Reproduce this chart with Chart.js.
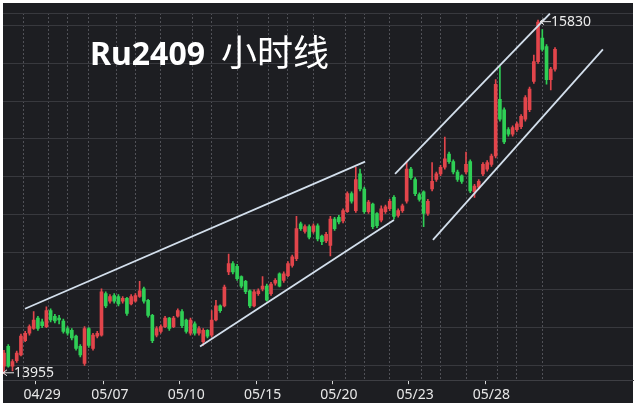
<!DOCTYPE html>
<html><head><meta charset="utf-8">
<script src="https://cdn.jsdelivr.net/npm/chart.js@4.4.1/dist/chart.umd.min.js"></script>
<style>
html,body{margin:0;padding:0;background:#fff;}
#wrap{position:relative;width:639px;height:408px;overflow:hidden;}
canvas{position:absolute;left:0;top:0;}
.t1{position:absolute;left:90px;top:37px;font-family:'Noto Sans';font-weight:bold;font-size:32px;line-height:32px;color:#fff;white-space:nowrap;}
.t2{position:absolute;left:221px;top:32px;font-family:'Noto Sans CJK SC';font-weight:normal;font-size:36px;line-height:36px;color:#fff;white-space:nowrap;}
</style></head>
<body><div id="wrap"><canvas id="c" width="639" height="408"></canvas>
<div class="t1">Ru2409</div><div class="t2">小时线</div></div>
<script>
const opens = [13995,14100,13995,14025,14055,14130,14170,14195,14250,14230,
14205,14290,14260,14250,14235,14195,14185,14155,14100,14010,
14195,14090,14155,14160,14380,14340,14370,14365,14340,14355,
14325,14340,14365,14405,14345,14265,14160,14180,14205,14250,
14205,14260,14285,14240,14170,14220,14170,14125,14185,14160,
14240,14315,14315,14495,14540,14525,14470,14445,14395,14315,
14380,14405,14420,14380,14435,14485,14450,14475,14530,14565,
14750,14710,14735,14710,14740,14685,14660,14635,14775,14785,
14765,14815,14910,14820,15015,14935,14815,14855,14805,14770,
14815,14830,14890,14795,14820,14870,15040,14985,14905,14920,
14805,14935,14985,15015,15050,15120,15080,15025,15005,15025,
15080,14920,14945,15015,15040,15065,15110,15410,15355,15250,
15225,15250,15265,15305,15355,15505,15610,15735,15690,15515,
15570];
const closes = [14065,13995,14020,14065,14155,14170,14205,14240,14195,14210,
14290,14240,14235,14240,14180,14170,14145,14090,14055,14195,
14105,14160,14170,14390,14315,14365,14340,14325,14355,14275,
14365,14370,14395,14340,14265,14130,14195,14205,14250,14195,
14250,14290,14210,14180,14240,14170,14195,14185,14155,14240,
14315,14290,14415,14540,14495,14460,14420,14390,14315,14390,
14395,14420,14345,14430,14450,14420,14485,14540,14575,14725,
14725,14735,14680,14740,14670,14655,14695,14775,14725,14760,
14820,14910,14870,14985,14935,14815,14865,14735,14740,14830,
14840,14870,14790,14820,14845,15040,14995,14910,14880,14805,
14870,14975,15015,15050,15095,15080,15025,14985,14975,15065,
14925,14950,14975,15065,15075,15110,15490,15305,15185,15225,
15260,15280,15320,15420,15465,15610,15820,15675,15515,15570,
15675];
const highs = [14080,14110,14030,14075,14165,14180,14215,14285,14260,14245,
14310,14300,14270,14265,14245,14205,14195,14160,14110,14205,
14200,14170,14180,14405,14390,14375,14380,14375,14365,14360,
14375,14380,14445,14415,14350,14270,14205,14215,14260,14255,
14260,14300,14295,14245,14250,14230,14205,14195,14190,14290,
14345,14320,14425,14590,14550,14535,14475,14450,14400,14400,
14405,14470,14430,14440,14460,14490,14495,14550,14585,14790,
14760,14745,14745,14750,14750,14690,14705,14790,14785,14795,
14830,14920,14920,15050,15040,14945,14875,14860,14810,14845,
14850,14880,14900,14830,14855,15080,15050,14995,14915,14925,
14880,15075,15025,15060,15210,15130,15090,15035,15010,15130,
15090,14960,14985,15075,15085,15120,15515,15585,15365,15260,
15270,15290,15330,15430,15475,15645,15830,15780,15700,15580,
15685];
const lows = [13955,13990,13970,14015,14050,14125,14160,14190,14185,14200,
14200,14230,14225,14220,14170,14160,14135,14080,14045,14000,
14095,14080,14145,14155,14305,14330,14330,14315,14330,14265,
14320,14335,14360,14330,14255,14120,14150,14170,14200,14185,
14200,14255,14200,14170,14160,14160,14160,14105,14145,14150,
14235,14280,14310,14480,14485,14450,14410,14380,14305,14310,
14370,14395,14340,14370,14425,14415,14440,14470,14520,14555,
14715,14700,14670,14700,14660,14640,14650,14580,14715,14750,
14755,14810,14860,14810,14925,14805,14805,14725,14730,14760,
14805,14820,14775,14785,14810,14860,14985,14900,14870,14735,
14795,14925,14975,15005,15040,15070,15015,14975,14965,15015,
14915,14890,14935,15005,15030,15055,15100,15295,15175,15215,
15215,15240,15255,15295,15345,15495,15600,15665,15490,15460,
15560];
const tickIndex = [9,25,43,61,79,97,115];
const tickLabels = ['04/29','05/07','05/10','05/15','05/20','05/23','05/28'];
const dayBreaks = [6,12,18,22,28,34,40,46,52,58,64,70,76,82,88,94,100,106,112,118,124,130];
const yGrid = [13921,14000,14200,14400,14600,14800,15000,15200,15400,15600,15800,15868];
const trend1 = [[4.95,14300],[85.2,15080]];
const trend2 = [[46.25,14100],[92.0,14770]];
const trend3 = [[92.26,15015],[128.8,15865]];
const trend4 = [[101.2,14665],[141.3,15675]];

const UP = '#e2454b', DOWN = '#2fcf55';
const cols = opens.map((o,i)=> closes[i] >= o ? UP : DOWN);
const allTicks = dayBreaks.concat(tickIndex).sort((a,b)=>a-b);

const bgPlugin = {
  id:'bg',
  beforeDraw(chart){
    const c = chart.ctx; c.save();
    c.fillStyle = '#ffffff'; c.fillRect(0,0,chart.width,chart.height);
    c.fillStyle = '#1d1e22'; c.fillRect(3,3,630,400);
    c.restore();
  }
};
const markPlugin = {
  id:'marks',
  afterDatasetsDraw(chart){
    const xs = chart.scales.x, ys = chart.scales.y, c = chart.ctx;
    const hiV = Math.max(...highs), loV = Math.min(...lows);
    const hi = highs.indexOf(hiV), lo = lows.indexOf(loV);
    function mark(px, py, txt){
      c.save();
      c.strokeStyle = '#e6e6e6'; c.lineWidth = 1;
      c.beginPath();
      c.moveTo(px, py); c.lineTo(px+11, py);
      c.moveTo(px+4, py-3); c.lineTo(px, py); c.lineTo(px+4, py+3);
      c.stroke();
      c.fillStyle = '#ececec';
      c.font = "14px 'Noto Sans'";
      c.textBaseline = 'middle'; c.textAlign = 'left';
      c.fillText(txt, px+11, py);
      c.restore();
    }
    mark(xs.getPixelForValue(hi)+2, ys.getPixelForValue(hiV)+1.5, String(hiV));
    mark(xs.getPixelForValue(lo)-1, ys.getPixelForValue(loV)-1, String(loV));
  }
};
const lineDs = (pts) => ({
  type:'line', data: pts.map(p=>({x:p[0], y:p[1]})),
  borderColor:'#d3dfec', borderWidth:1.8, pointRadius:0, fill:false, order:-1, tension:0
});

new Chart(document.getElementById('c'), {
  type:'bar',
  data:{
    datasets:[
      {type:'bar', data: opens.map((o,i)=>({x:i, y:[opens[i], closes[i]]})), backgroundColor: cols,
       barThickness:3, grouped:false, borderWidth:0, order:0},
      {type:'bar', data: opens.map((o,i)=>({x:i, y:[lows[i], highs[i]]})), backgroundColor: cols,
       barThickness:1, grouped:false, borderWidth:0, order:1},
      lineDs(trend1), lineDs(trend2), lineDs(trend3), lineDs(trend4)
    ]
  },
  options:{
    responsive:false, animation:false, devicePixelRatio:1,
    layout:{padding:{left:3, right:6, top:13, bottom:3}},
    plugins:{legend:{display:false}, tooltip:{enabled:false}, title:{display:false}},
    scales:{
      x:{
        type:'linear', min:-0.236, max:148.4, offset:false,
        afterBuildTicks: s => { s.ticks = allTicks.map(v=>({value:v})); },
        ticks:{autoSkip:false, maxRotation:0, minRotation:0, padding:2, color:'#e8e8e8',
          font:{family:'Noto Sans', size:14},
          callback: v => { const k = tickIndex.indexOf(v); return k >= 0 ? tickLabels[k] : ''; }},
        grid:{
          color: ctx => (ctx.tick && dayBreaks.includes(ctx.tick.value)) ? '#505157' : 'rgba(0,0,0,0)',
          tickColor: ctx => (ctx.tick && tickIndex.includes(ctx.tick.value)) ? '#d8d8d8' : 'rgba(0,0,0,0)',
          tickLength:4, lineWidth:1, drawTicks:true
        },
        border:{display:true, color:'#3e3f44', dash:[2,2]}
      },
      y:{
        type:'linear', min:13921, max:15868,
        afterBuildTicks: s => { s.ticks = yGrid.map(v=>({value:v})); },
        ticks:{display:false},
        grid:{color:'#38393e', drawTicks:false, lineWidth:1},
        border:{display:false}
      }
    }
  },
  plugins:[bgPlugin, markPlugin]
});
</script>
</body></html>
